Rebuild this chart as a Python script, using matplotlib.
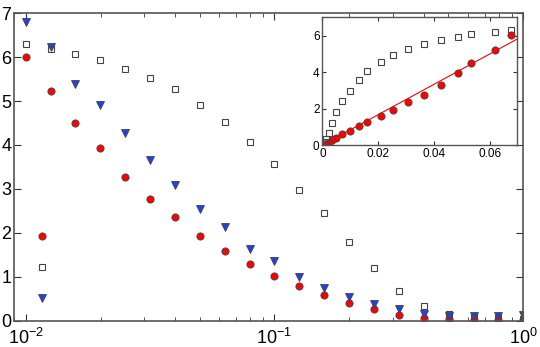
import numpy as np
import matplotlib.pyplot as plt

plt.rcParams['font.family'] = ['Liberation Sans', 'DejaVu Sans']

# main panel: x = 10^(-2 + 0.1 k), k = 0..20
x = 10 ** np.linspace(-2, 0, 21)
circles = [6.01, 5.22, 4.49, 3.93, 3.27, 2.77, 2.35, 1.92, 1.59, 1.28, 1.02,
           0.79, 0.59, 0.40, 0.26, 0.13, 0.07, 0.03, 0.02, 0.01, 0.01]
squares = [6.29, 6.19, 6.07, 5.94, 5.74, 5.52, 5.27, 4.92, 4.53, 4.06, 3.57,
           2.98, 2.44, 1.79, 1.20, 0.68, 0.34, 0.15, 0.08, 0.05, 0.03]
triangles = [6.80, 6.22, 5.38, 4.90, 4.28, 3.65, 3.09, 2.54, 2.13, 1.64, 1.35,
             1.00, 0.74, 0.53, 0.38, 0.26, 0.15, 0.11, 0.11, 0.11, 0.12]

# odd extra column
x_extra = 0.01166
circ_extra, sq_extra, tri_extra = 1.92, 1.21, 0.51

# inset x values for each column
x_inset = [0.0673, 0.0615, 0.0531, 0.0485, 0.0423, 0.0362, 0.0305, 0.0251,
           0.0210, 0.0159, 0.0132, 0.0098, 0.0070, 0.0050, 0.0034, 0.0024,
           0.0013, 0.0010, 0.0008, 0.0006, 0.0005]
fit_x = [0.0, 0.07]
fit_y = [0.0, 5.85]

red = '#ff0000'
blue = '#2040e8'
edge = '#444444'

fig = plt.figure(figsize=(5.4, 3.47), dpi=100)
ax = fig.add_axes([0.026, 0.076, 0.943, 0.886])

xs = list(x) + [x_extra]
ax.plot(xs, circles + [circ_extra], 'o', ms=5.2, mfc=red, mec=edge, mew=0.6)
ax.plot(xs, triangles + [tri_extra], 'v', ms=5.4, mfc=blue, mec=edge, mew=0.6)
ax.plot(xs, squares + [sq_extra], 's', ms=4.5, mfc='none', mec=edge, mew=0.8)

ax.set_xscale('log')
ax.set_xlim(0.00898, 1.0)
ax.set_ylim(0, 7)
ax.set_yticks(range(8))
ax.tick_params(which='both', direction='in', top=True, right=True,
               color='#333333', labelsize=13, pad=2)
ax.tick_params(axis='x', pad=5)
ax.tick_params(which='major', length=5)
ax.tick_params(which='minor', length=3)
for s in ax.spines.values():
    s.set_color('#555555')
    s.set_linewidth(1.2)

# inset
axi = fig.add_axes([0.597, 0.582, 0.36, 0.368])
axi.plot(fit_x, fit_y, '-', color=red, lw=0.8)
axi.plot(x_inset, squares, 's', ms=4.5, mfc='none', mec=edge, mew=0.8)
axi.plot(x_inset, circles, 'o', ms=5.2, mfc=red, mec=edge, mew=0.6)
axi.set_xlim(0, 0.0694)
axi.set_ylim(0, 7)
axi.set_xticks([0, 0.02, 0.04, 0.06])
axi.set_xticklabels(['0', '0.02', '0.04', '0.06'])
axi.set_yticks([0, 2, 4, 6])
axi.tick_params(direction='in', top=True, right=True, length=3,
                color='#333333', labelsize=8.5, pad=2)
for s in axi.spines.values():
    s.set_color('#555555')
    s.set_linewidth(1.0)

fig.savefig('out.png', dpi=100)
